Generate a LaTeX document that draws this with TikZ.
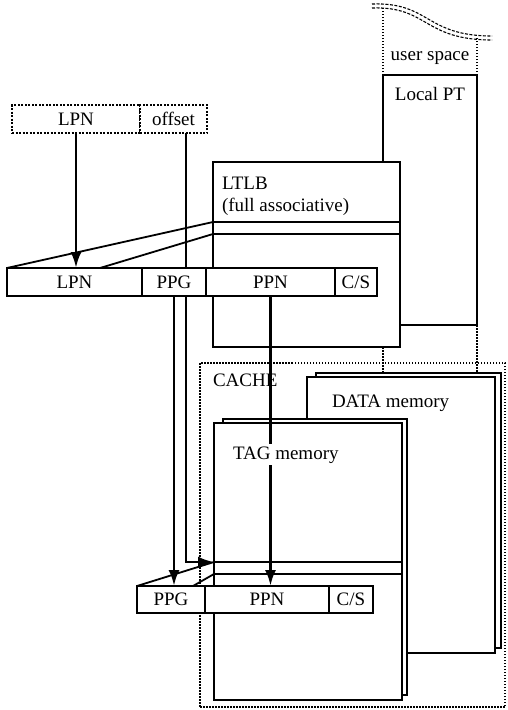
\documentclass[tikz,border=0pt]{standalone}
\usepackage{fontspec}
\setmainfont{Liberation Serif}
\usetikzlibrary{arrows.meta}
\begin{document}
\begin{tikzpicture}[x=1pt,y=-1pt,
  font=\fontsize{19}{22}\selectfont,
  box/.style={draw, fill=white, line width=1.3pt, inner sep=0pt, outer sep=0pt, anchor=north west},
  dbox/.style={box, dash pattern=on 2pt off 1.5pt},
  dotline/.style={line width=1.1pt, dash pattern=on 1.5pt off 1.5pt},
  conn/.style={line width=1.8pt},
  arr/.style={line width=2.8pt, -{Latex[length=16pt,width=11pt]}},
  lbl/.style={inner sep=0pt, outer sep=0pt}
]
\useasboundingbox (0,0) rectangle (507,710);

% ---------- user space / Local PT ----------
\draw[dotline] (383,75) -- (383,6);
\draw[dotline] (477,75) -- (477,38);
\draw[line width=1.1pt, dash pattern=on 3pt off 1.5pt] (372,4) .. controls (430,2) and (425,36) .. (492,36);
\draw[line width=1.1pt, dash pattern=on 3pt off 1.5pt] (372,8) .. controls (428,6) and (423,40) .. (492,40);
\node[lbl] (us) at (430,58) {user space};
\node[box, minimum width=94, minimum height=250] (lpt) at (383,75) {};
\node[lbl, anchor=base] (lptl) at (430,100) {Local PT};
\draw[dotline] (383,347) -- (383,373);
\draw[dotline] (477,325) -- (477,373);

% ---------- LTLB ----------
\node[box, minimum width=187, minimum height=185] (ltlb) at (213,162) {};
\node[lbl, anchor=base west] (ltlbt) at (222,189) {LTLB};
\node[lbl, anchor=base west] (ltlbs) at (222,211) {(full associative)};
\coordinate (le1) at (213,222);
\coordinate (re1) at (400,222);
\coordinate (le2) at (213,234);
\coordinate (re2) at (400,234);
\draw[line width=1.3pt] (le1) -- (re1);
\draw[line width=1.3pt] (le2) -- (re2);

% ---------- top row ----------
\node[dbox, minimum width=128, minimum height=28] (tlpn) at (12,105) {LPN};
\node[dbox, minimum width=67, minimum height=28] (toff) at (140,105) {offset};

% offset arrow (drawn under the middle row)
\coordinate (offx) at (186,0);
\coordinate (tage1) at (214,562);
\draw[arr] (toff.south -| offx) |- (tage1);

% ---------- middle row ----------
\node[box, minimum width=135, minimum height=28] (mlpn) at (7,268) {LPN};
\node[box, minimum width=64, minimum height=28] (mppg) at (142,268) {PPG};
\node[box, minimum width=129, minimum height=28] (mppn) at (206,268) {PPN};
\node[box, minimum width=42, minimum height=28] (mcs) at (335,268) {C/S};
\coordinate (ml2) at (100,268);
\draw[conn] (mlpn.north west) -- (le1);
\draw[conn] (ml2) -- (le2);

\draw[arr] (tlpn.south) -- (tlpn.south |- mlpn.north);

% ---------- CACHE ----------
\node[draw, dotline, minimum width=305, minimum height=344, inner sep=0pt, outer sep=0pt, anchor=north west] (cache) at (200,363) {};
\node[lbl, anchor=base west] (cachel) at (213,386) {CACHE};
\node[box, minimum width=185, minimum height=275] (datab) at (316,373) {};
\node[box, minimum width=188, minimum height=276] (dataf) at (307,377) {};
\node[lbl, anchor=base west] (datal) at (332,407) {DATA memory};
\node[box, minimum width=184, minimum height=276] (tagb) at (223,419) {};
\node[box, minimum width=188, minimum height=277] (tagf) at (214,423) {};
\coordinate (tre1) at (402,562);
\coordinate (tage2) at (214,574);
\coordinate (tre2) at (402,574);
\draw[line width=1.3pt] (tage1) -- (tre1);
\draw[line width=1.3pt] (tage2) -- (tre2);

% ---------- bottom row ----------
\node[box, minimum width=68, minimum height=27] (bppg) at (137,586) {PPG};
\node[box, minimum width=124, minimum height=27] (bppn) at (205,586) {PPN};
\node[box, minimum width=44, minimum height=27] (bcs) at (329,586) {C/S};
\coordinate (bl2) at (193,586);
\draw[conn] (bppg.north west) -- (tage1);
\draw[conn] (bl2) -- (tage2);

% arrows from middle row to bottom row
\draw[arr] (mppg.south) -- (mppg.south |- bppg.north);
\draw[arr] (mppn.south) -- (mppn.south |- bppn.north);

\node[lbl, anchor=base west, fill=white, inner ysep=2pt] (tagl) at (233,459) {TAG memory};
\end{tikzpicture}
\end{document}
